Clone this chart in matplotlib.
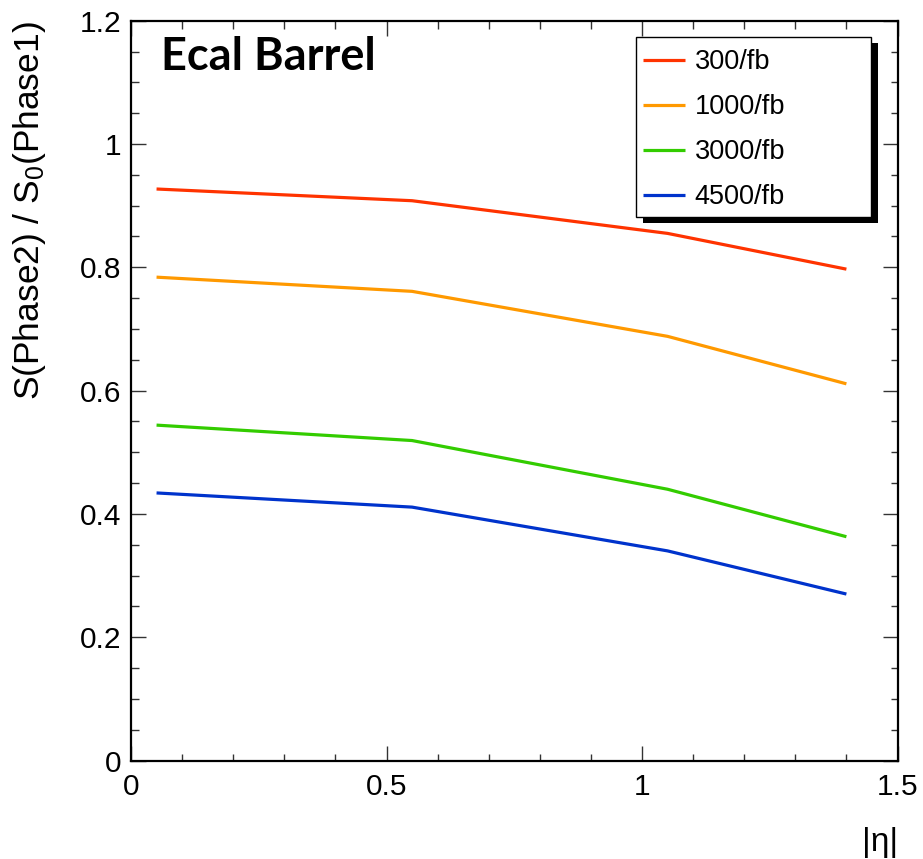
import matplotlib
matplotlib.use("Agg")
import matplotlib.pyplot as plt
from matplotlib.patches import Rectangle
from matplotlib.ticker import MultipleLocator

plt.rcParams["font.family"] = ["Liberation Sans", "DejaVu Sans"]
plt.rcParams["mathtext.default"] = "regular"

# =========================
# Data
# =========================
eta = [0.05, 0.55, 1.05, 1.40]

lumi_labels = ["300/fb", "1000/fb", "3000/fb", "4500/fb"]
s_300 = [0.927, 0.908, 0.855, 0.797]
s_1000 = [0.784, 0.761, 0.688, 0.611]
s_3000 = [0.544, 0.519, 0.440, 0.363]
s_4500 = [0.434, 0.411, 0.340, 0.270]

colors = ["#ff3300", "#ff9900", "#33cc00", "#0033cc"]

W, H = 923, 859


def fx(px):
    return px / W


def fy(py):
    # pixel row from top -> figure fraction
    return 1 - py / H


fig = plt.figure(figsize=(W / 100, H / 100), dpi=100)
ax = fig.add_axes([fx(131), fy(760.5), fx(897.5 - 131), (760.5 - 20.7) / H])

for vals, lab, col in zip([s_300, s_1000, s_3000, s_4500], lumi_labels, colors):
    ax.plot(eta, vals, color=col, linewidth=2.3, label=lab, solid_capstyle="butt")

ax.set_xlim(0, 1.5)
ax.set_ylim(0, 1.2)
ax.xaxis.set_major_locator(MultipleLocator(0.5))
ax.xaxis.set_minor_locator(MultipleLocator(0.1))
ax.yaxis.set_major_locator(MultipleLocator(0.2))
ax.yaxis.set_minor_locator(MultipleLocator(0.05))
ax.xaxis.set_major_formatter(lambda v, p: f"{v:g}")
ax.yaxis.set_major_formatter(lambda v, p: f"{v:g}")

ax.tick_params(which="both", direction="in", top=True, right=True, width=1.0, color="#333333")
ax.tick_params(which="major", length=10.8, labelsize=21.5)
ax.tick_params(which="minor", length=5.4)
ax.tick_params(axis="x", which="major", pad=9)
ax.tick_params(axis="y", which="major", pad=7)
for sp in ax.spines.values():
    sp.set_linewidth(1.6)

# axis titles, ROOT style (aligned to the axis ends)
fig.text(fx(30), fy(21), "S(Phase2) / S$_0$(Phase1)", rotation=90,
         ha="center", va="top", fontsize=25.5)
fig.text(fx(898), fy(842), "|η|", ha="right", va="center", fontsize=24)

# label
ax.text(fx(161), fy(36), "Ecal Barrel", transform=fig.transFigure,
        fontsize=32.5, fontweight="bold", family=["Lato", "DejaVu Sans"],
        ha="left", va="top")

# legend box with hard shadow
bx0, by0, bx1, by1 = 636, 37, 871, 217
ax.add_patch(Rectangle((fx(bx0 + 7), fy(by1 + 6)), fx(bx1 - bx0), (by1 - by0) / H,
                       transform=fig.transFigure, facecolor="black",
                       edgecolor="none", zorder=5, clip_on=False))
ax.add_patch(Rectangle((fx(bx0), fy(by1)), fx(bx1 - bx0), (by1 - by0) / H,
                       transform=fig.transFigure, facecolor="white",
                       edgecolor="black", linewidth=1.0, zorder=6, clip_on=False))
leg = ax.legend(loc="upper left", bbox_to_anchor=(fx(635), fy(41)),
                bbox_transform=fig.transFigure, frameon=False, fontsize=19.5,
                handlelength=1.55, handletextpad=0.35, labelspacing=0.7,
                borderaxespad=0, borderpad=0.3)
leg.set_zorder(10)

fig.savefig("out.png", dpi=100)
